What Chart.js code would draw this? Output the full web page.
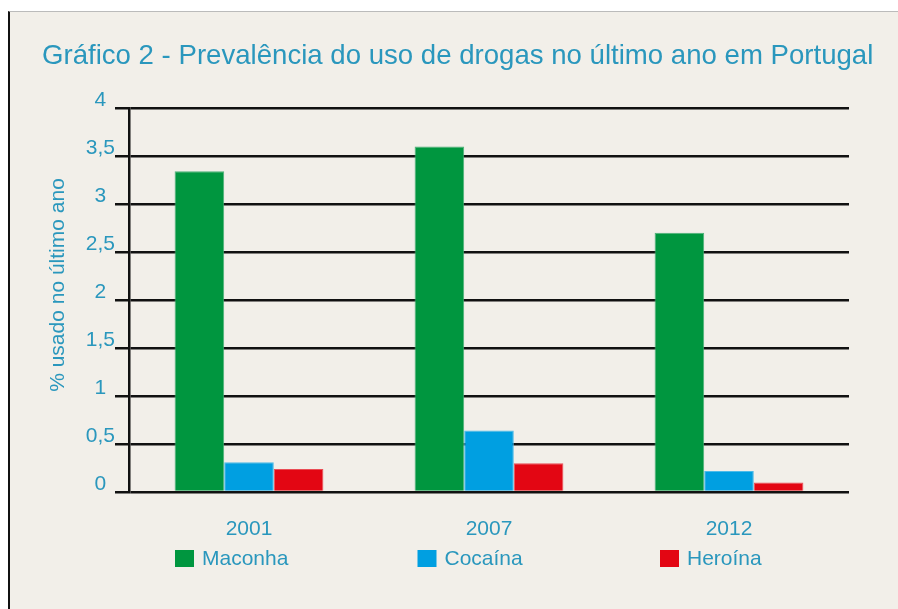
<!DOCTYPE html>
<html>
<head>
<meta charset="utf-8">
<script src="https://cdn.jsdelivr.net/npm/chart.js@4.4.1/dist/chart.umd.min.js"></script>
<style>
  html, body { margin: 0; padding: 0; background: #fff; }
  #box {
    position: absolute; left: 8px; top: 11px; width: 890px; height: 598px;
    background: #f2efe9; border-left: 2px solid #111; border-top: 1px solid #bbb;
    box-sizing: border-box;
  }
  #chart { position: absolute; left: 0; top: 0; }
</style>
</head>
<body>
<div id="box"></div>
<canvas id="chart" width="898" height="609"></canvas>
<script>
const years = ['2001', '2007', '2012'];
const seriesNames = ['Maconha', 'Cocaína', 'Heroína'];
const maconha = [3.34, 3.60, 2.70];
const cocaina = [0.31, 0.64, 0.22];
const heroina = [0.24, 0.30, 0.10];
const yTickLabels = ['0', '0,5', '1', '1,5', '2', '2,5', '3', '3,5', '4'];
const chartTitle = 'Gráfico 2 - Prevalência do uso de drogas no último ano em Portugal';
const yTitle = '% usado no último ano';

const teal = '#2a97bd';
const fontFamily = "'Liberation Sans', Arial, Helvetica, sans-serif";
const colors = ['#00963f', '#009fe1', '#e30613'];
const edges = ['#4cb179', '#4dbbe9', '#ea4d55'];

// title, rotated y title and the spaced-out legend
const extras = {
    id: 'extras',
    afterDraw(chart) {
        const ctx = chart.ctx;
        ctx.save();
        ctx.fillStyle = teal;
        ctx.font = '27.6px ' + fontFamily;
        ctx.textAlign = 'left';
        ctx.textBaseline = 'alphabetic';
        ctx.fillText(chartTitle, 42, 64);

        ctx.font = '21px ' + fontFamily;
        ctx.save();
        ctx.translate(58, 285);
        ctx.rotate(-Math.PI / 2);
        ctx.textAlign = 'center';
        ctx.textBaseline = 'middle';
        ctx.fillText(yTitle, 0, 0);
        ctx.restore();

        ctx.textAlign = 'left';
        ctx.textBaseline = 'middle';
        chart.data.datasets.forEach((ds, i) => {
            const x = 175 + i * 242.5;
            ctx.fillStyle = ds.backgroundColor;
            ctx.fillRect(x, 550, 19, 17);
            ctx.fillStyle = teal;
            ctx.fillText(ds.label, x + 27, 559);
        });
        ctx.restore();
    }
};

new Chart(document.getElementById('chart'), {
    type: 'bar',
    data: {
        labels: years,
        datasets: [maconha, cocaina, heroina].map((vals, i) => ({
            label: seriesNames[i],
            data: vals,
            backgroundColor: colors[i],
            borderColor: edges[i],
            borderWidth: 1,
            categoryPercentage: 0.62,
            barPercentage: 1
        }))
    },
    options: {
        responsive: false,
        devicePixelRatio: 1,
        animation: false,
        layout: { padding: { left: 0, right: 49, top: 108, bottom: 57 } },
        plugins: {
            legend: { display: false },
            title: { display: false },
            tooltip: { enabled: false }
        },
        scales: {
            x: {
                grid: { display: false, drawTicks: false },
                border: { display: false },
                ticks: {
                    color: teal,
                    font: { family: fontFamily, size: 21 },
                    padding: 25
                },
                afterFit(scale) { scale.height = 60; }
            },
            y: {
                min: 0,
                max: 4,
                ticks: {
                    stepSize: 0.5,
                    color: teal,
                    font: { family: fontFamily, size: 21 },
                    padding: 0,
                    crossAlign: 'center',
                    labelOffset: -8,
                    callback: (v, i) => yTickLabels[i]
                },
                grid: { color: '#111', lineWidth: 2.5, tickLength: 14, tickColor: '#111' },
                border: { display: true, color: '#111', width: 2.5 },
                afterFit(scale) { scale.width = 129; }
            }
        }
    },
    plugins: [extras]
});
</script>
</body>
</html>
